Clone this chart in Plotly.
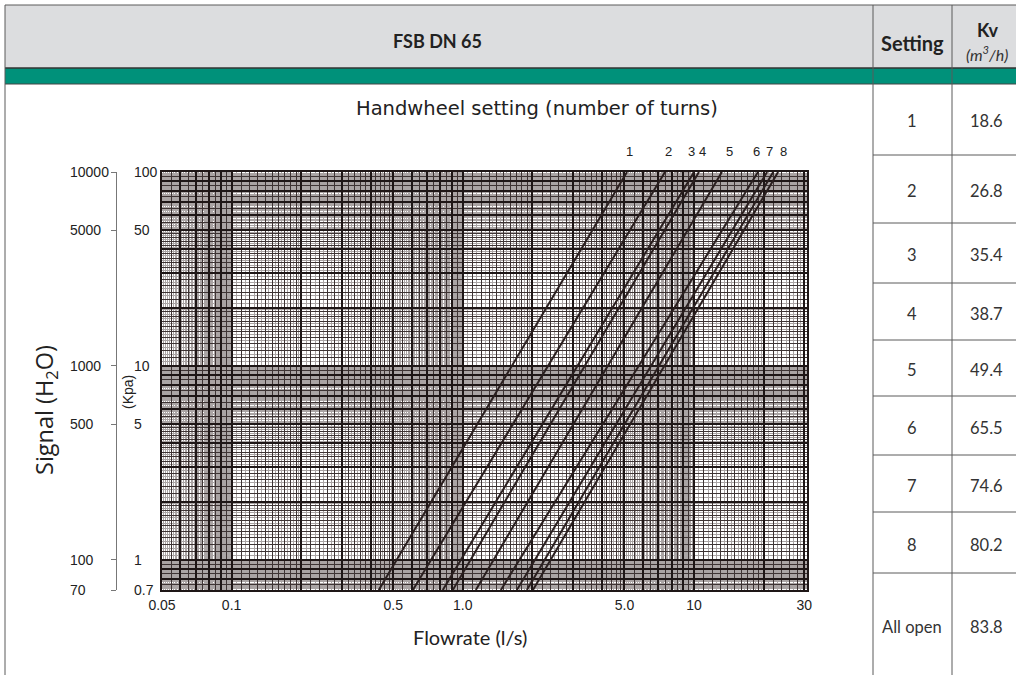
import math
import plotly.graph_objects as go

W, H = 1016, 675

# ---------------- data ----------------
settings = ["1", "2", "3", "4", "5", "6", "7", "8", "All open"]
kv_values = ["18.6", "26.8", "35.4", "38.7", "49.4", "65.5", "74.6", "80.2", "83.8"]

# each curve is a straight line on log-log paper: flow (l/s) read at the
# bottom (0.7 kPa) and top (100 kPa) of the grid
dp_ends_kpa = [0.7, 100]
flow_at_bottom = [0.433, 0.608, 0.819, 0.905, 1.138, 1.461, 1.713, 1.892, 2.01]
flow_at_top = [5.13, 7.49, 10.0, 10.5, 13.2, 18.9, 20.7, 22.0, 23.1]

turn_labels = ["1", "2", "3", "4", "5", "6", "7", "8"]
turn_label_flow = [5.28, 7.72, 9.71, 10.9, 14.3, 18.7, 21.3, 24.3]

x_ticks = [0.05, 0.1, 0.5, 1, 5, 10, 30]
x_ticktext = ["0.05", "0.1", "0.5", "1.0", "5.0", "10", "30"]
kpa_ticks = [0.7, 1, 5, 10, 50, 100]
kpa_ticktext = ["0.7", "1", "5", "10", "50", "100"]
h2o_ticks = [70, 100, 500, 1000, 5000, 10000]
h2o_ticktext = ["70", "100", "500", "1000", "5000", "10000"]

# ---------------- layout helpers ----------------
def fx(p):
    return p / W


def fy(p):
    return 1 - p / H


X_LO, X_HI = 0.05, 30.8
Y_LO, Y_HI = 0.7, 100
PLOT_L, PLOT_R, PLOT_T, PLOT_B = 162, 807, 172, 590


def log_paper(lo, hi, steps, exclude=()):
    vals = set()
    for e in range(-3, 4):
        for a, b, s in steps:
            n = int(round((b - a) / s))
            for i in range(n):
                v = float(f"{(a + i * s) * 10 ** e:.6g}")
                if lo * 0.9999 <= v <= hi * 1.0001:
                    vals.add(v)
    ex = set(exclude)
    return sorted(v for v in vals if v not in ex)


heavy_x = log_paper(X_LO, X_HI, [(1, 10, 1)])
medium_x = log_paper(X_LO, X_HI, [(1, 2, 0.1), (2, 5, 0.2), (5, 10, 0.5)], heavy_x)
fine_x = log_paper(X_LO, X_HI, [(1, 2, 0.05), (2, 5, 0.1), (5, 10, 0.1)], heavy_x + medium_x)
heavy_y = log_paper(Y_LO, Y_HI, [(1, 10, 1)])
medium_y = log_paper(Y_LO, Y_HI, [(1, 2, 0.1), (2, 5, 0.2), (5, 10, 0.5)], heavy_y)
fine_y = log_paper(Y_LO, Y_HI, [(1, 2, 0.05), (2, 5, 0.1), (5, 10, 0.1)], heavy_y + medium_y)

HEAVY = "#1e1616"
MEDIUM = "#3e3434"
FINE = "#aaa4a4"
LINE = "#2a1f1f"
BORDER = "#5a5a5a"
TXT = "#333333"
AX_FONT = "Liberation Sans, Arial, sans-serif"
CAL_FONT = "Lato, Open Sans, sans-serif"

fig = go.Figure()

for b, t in zip(flow_at_bottom, flow_at_top):
    fig.add_trace(go.Scatter(x=[b, t], y=dp_ends_kpa, mode="lines",
                             line=dict(color=LINE, width=2),
                             showlegend=False, hoverinfo="skip"))

# empty traces so the overlay axes get drawn
for xa, ya in [("x2", "y2"), ("x", "y3"), ("x", "y4")]:
    fig.add_trace(go.Scatter(x=[None], y=[None], xaxis=xa, yaxis=ya,
                             mode="lines", showlegend=False, hoverinfo="skip"))

xdom = [fx(PLOT_L), fx(PLOT_R)]
ydom = [fy(PLOT_B), fy(PLOT_T)]
xr = [math.log10(X_LO), math.log10(X_HI)]
yr = [math.log10(Y_LO), math.log10(Y_HI)]

fig.update_layout(
    width=W, height=H,
    margin=dict(l=0, r=0, t=0, b=0, pad=0, autoexpand=False),
    paper_bgcolor="white", plot_bgcolor="white",
    showlegend=False,
    xaxis=dict(type="log", domain=xdom, range=xr, anchor="y",
               tickmode="array", tickvals=x_ticks, ticktext=x_ticktext,
               showgrid=False, zeroline=False, showline=False, ticks="",
               ticklabelstandoff=5, automargin=False,
               tickfont=dict(family=AX_FONT, size=14, color="#222"),
               minor=dict(tickmode="array", tickvals=fine_x, showgrid=True,
                          gridcolor=FINE, gridwidth=0.7, ticks="")),
    yaxis=dict(type="log", domain=ydom, range=yr, side="right",
               anchor="free", position=fx(133), automargin=False,
               tickmode="array", tickvals=kpa_ticks, ticktext=kpa_ticktext,
               showgrid=False, zeroline=False, showline=False, ticks="",
               tickfont=dict(family=AX_FONT, size=14, color="#222"),
               minor=dict(tickmode="array", tickvals=fine_y, showgrid=True,
                          gridcolor=FINE, gridwidth=0.7, ticks="")),
    xaxis2=dict(type="log", overlaying="x", range=xr, anchor="y2",
                tickmode="array", tickvals=heavy_x, showticklabels=False,
                showgrid=True, gridcolor=HEAVY, gridwidth=1.5, ticks="",
                showline=True, mirror=True, linecolor=HEAVY, linewidth=1.5,
                zeroline=False, automargin=False,
                minor=dict(tickmode="array", tickvals=medium_x, showgrid=True,
                           gridcolor=MEDIUM, gridwidth=0.9, ticks="")),
    yaxis2=dict(type="log", overlaying="y", range=yr, anchor="x2",
                tickmode="array", tickvals=heavy_y, showticklabels=False,
                showgrid=True, gridcolor=HEAVY, gridwidth=1.5, ticks="",
                showline=True, mirror=True, linecolor=HEAVY, linewidth=1.5,
                zeroline=False, automargin=False,
                minor=dict(tickmode="array", tickvals=medium_y, showgrid=True,
                           gridcolor=MEDIUM, gridwidth=0.9, ticks="")),
    yaxis3=dict(type="log", overlaying="y", range=[math.log10(70), 4],
                side="right", anchor="free", position=fx(69), automargin=False,
                tickmode="array", tickvals=h2o_ticks, ticktext=h2o_ticktext,
                showgrid=False, zeroline=False, showline=False, ticks="",
                tickfont=dict(family=AX_FONT, size=14, color="#222")),
    yaxis4=dict(type="log", overlaying="y", range=[math.log10(70), 4],
                side="left", anchor="free", position=fx(116), automargin=False,
                tickmode="array", tickvals=h2o_ticks, showticklabels=False,
                showgrid=False, zeroline=False, showline=True,
                linecolor="#777", linewidth=1, ticks="outside", ticklen=5,
                tickcolor="#777", tickwidth=1),
)

# ---------------- table frame ----------------
shapes = []
shapes.append(dict(type="rect", xref="paper", yref="paper", x0=fx(5), x1=1,
                   y0=fy(68), y1=fy(5), fillcolor="#dcdddf", line=dict(width=0),
                   layer="below"))
shapes.append(dict(type="rect", xref="paper", yref="paper", x0=fx(5), x1=1,
                   y0=fy(84), y1=fy(68), fillcolor="#00917a", line=dict(width=0),
                   layer="below"))


def hline(y, x0, x1, color=BORDER, w=1):
    shapes.append(dict(type="line", xref="paper", yref="paper", x0=fx(x0), x1=fx(x1),
                       y0=fy(y), y1=fy(y), line=dict(color=color, width=w)))


def vline(x, y0, y1, color=BORDER, w=1):
    shapes.append(dict(type="line", xref="paper", yref="paper", x0=fx(x), x1=fx(x),
                       y0=fy(y0), y1=fy(y1), line=dict(color=color, width=w)))


hline(5, 5, W)
hline(68, 5, W, "#333", 1.5)
hline(84, 5, W, "#444", 1)
vline(5, 5, H)
vline(873, 5, H)
vline(952, 5, H)

row_edges = [84, 155, 223, 283, 340, 396, 455, 512, 573, 680]
for y in row_edges[1:-1]:
    hline(y, 873, W)

annotations = []


def text(x, y, s, size, family=CAL_FONT, color=TXT, angle=0, xanchor="center"):
    annotations.append(dict(xref="paper", yref="paper", x=fx(x), y=fy(y), text=s,
                            showarrow=False, xanchor=xanchor, yanchor="middle",
                            textangle=angle,
                            font=dict(family=family, size=size, color=color)))


text(437, 41, "<b>FSB DN 65</b>", 18, color="#222")
text(912, 43, "<b>Setting</b>", 20, color="#222")
text(987, 30, "<b>Kv</b>", 18, color="#222")
text(987, 53, "<i>(m<sup>3</sup>/h)</i>", 16, color="#333")

for i, (s, k) in enumerate(zip(settings, kv_values)):
    yc = (row_edges[i] + min(row_edges[i + 1], H + 5)) / 2 + 2
    if i == len(settings) - 1:
        yc = 627
    text(912, yc, s, 16.5)
    text(986, yc, k, 16.5)

text(537, 108, "Handwheel setting (number of turns)", 19.5,
     family="DejaVu Sans, Verdana, sans-serif", color="#222")
text(470, 637, "Flowrate (l/s)", 20, family=CAL_FONT, color="#222")
text(45, 410, "Signal (H<sub>2</sub>O)", 23.5, family="Open Sans, sans-serif",
     color="#222", angle=-90)
text(128, 392, "(Kpa)", 14, family=AX_FONT, color="#222", angle=-90)

for lab, q in zip(turn_labels, turn_label_flow):
    annotations.append(dict(xref="x", yref="paper", x=math.log10(q), y=fy(152),
                            text=lab, showarrow=False, xanchor="center",
                            yanchor="middle",
                            font=dict(family=AX_FONT, size=13, color="#222")))

fig.update_layout(shapes=shapes, annotations=annotations)

fig.write_html("out.html")
